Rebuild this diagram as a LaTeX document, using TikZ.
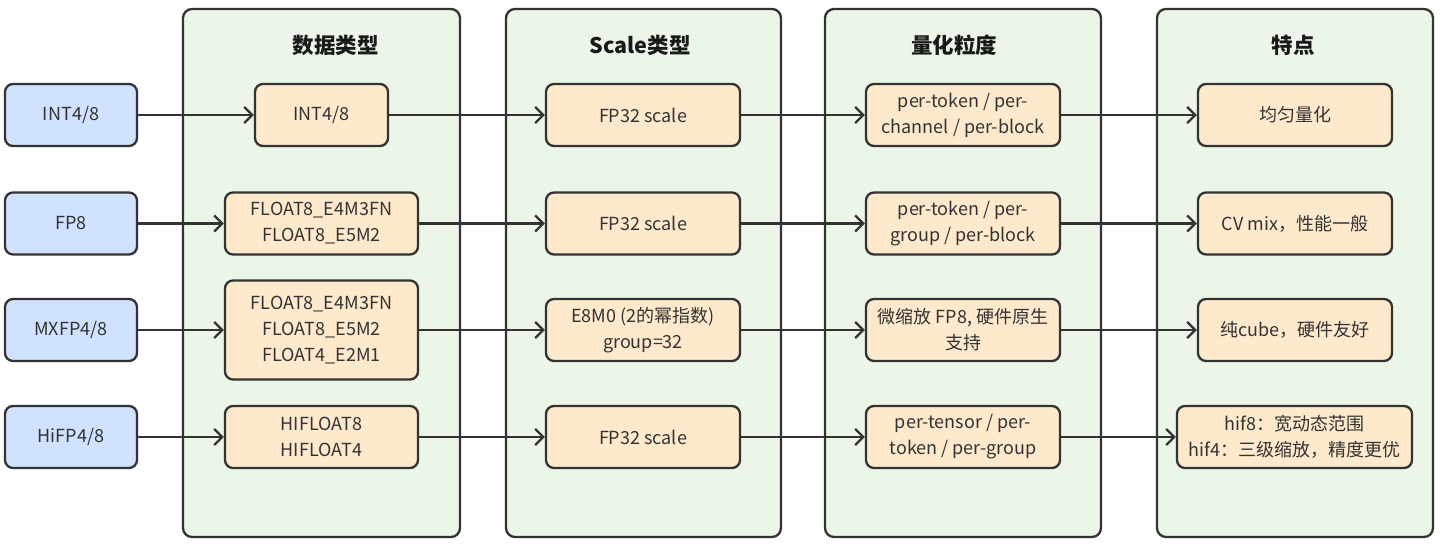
\documentclass[tikz,border=0pt]{standalone}
\usepackage{fontspec}
\setmainfont{Noto Sans CJK SC}
\usetikzlibrary{arrows.meta}
\definecolor{linec}{HTML}{333333}
\definecolor{bluef}{HTML}{D0E2FF}
\definecolor{orangef}{HTML}{FFE9CC}
\definecolor{greenf}{HTML}{EBF6E9}
\definecolor{textc}{HTML}{333333}
\tikzset{
  grp/.style={draw=linec, fill=greenf, line width=2.3pt, rounded corners=9pt},
  box/.style={draw=linec, line width=2.3pt, rounded corners=8pt, inner sep=0pt,
    minimum height=62pt, align=center, text=textc,
    font=\fontsize{18}{26}\selectfont},
  inbox/.style={box, fill=bluef, minimum width=132pt},
  obox/.style={box, fill=orangef},
  ttl/.style={font=\fontsize{21.5}{25}\selectfont\bfseries, text=black!90},
  conn/.style={draw=linec, line width=2.3pt, -{Straight Barb[length=8pt,width=16pt,line width=2.3pt]}},
}
\begin{document}
\begin{tikzpicture}[x=1pt,y=-1pt]
\useasboundingbox[fill=white] (0,0) rectangle (1440,544);
% groups
\draw[grp] (183,9) rectangle (460,537);
\draw[grp] (506,9) rectangle (781,537);
\draw[grp] (825,9) rectangle (1101,537);
\draw[grp] (1157,9) rectangle (1433,537);
\node[ttl] (t1) at (335.5,45) {数据类型};
\node[ttl] (t2) at (640,45) {Scale类型};
\node[ttl] (t3) at (954,45) {量化粒度};
\node[ttl] (t4) at (1293,45) {特点};
% input boxes
\node[inbox] (i1) at (71,115) {INT4/8};
\node[inbox] (i2) at (71,223.5) {FP8};
\node[inbox] (i3) at (71,330) {MXFP4/8};
\node[inbox] (i4) at (71,437) {HiFP4/8};
% column 1
\node[obox, minimum width=133pt] (a1) at (321.5,115) {INT4/8};
\node[obox, minimum width=193pt] (a2) at (321.5,223.5) {FLOAT8\_E4M3FN\\FLOAT8\_E5M2};
\node[obox, minimum width=193pt, minimum height=99pt] (a3) at (321.5,330) {FLOAT8\_E4M3FN\\FLOAT8\_E5M2\\FLOAT4\_E2M1};
\node[obox, minimum width=193pt] (a4) at (321.5,437) {HIFLOAT8\\HIFLOAT4};
% column 2
\node[obox, minimum width=194pt] (b1) at (643,115) {FP32 scale};
\node[obox, minimum width=194pt] (b2) at (643,223.5) {FP32 scale};
\node[obox, minimum width=194pt] (b3) at (643,330) {E8M0 (2的幂指数)\\group=32};
\node[obox, minimum width=194pt] (b4) at (643,437) {FP32 scale};
% column 3
\node[obox, minimum width=194pt] (c1) at (963,115) {per-token / per-\\channel / per-block};
\node[obox, minimum width=194pt] (c2) at (963,223.5) {per-token / per-\\group / per-block};
\node[obox, minimum width=194pt] (c3) at (963,330) {微缩放 FP8, 硬件原生\\支持};
\node[obox, minimum width=194pt] (c4) at (963,437) {per-tensor / per-\\token / per-group};
% column 4
\node[obox, minimum width=194pt] (d1) at (1295,115) {均匀量化};
\node[obox, minimum width=194pt] (d2) at (1295,223.5) {CV mix，性能一般};
\node[obox, minimum width=194pt] (d3) at (1295,330) {纯cube，硬件友好};
\node[obox, minimum width=235pt] (d4) at (1294.5,437) {hif8：宽动态范围\\hif4：三级缩放，精度更优};
% connectors
\foreach \r in {1,2,3,4}{
  \draw[conn] (i\r.east) -- (a\r.west);
  \draw[conn] (a\r.east) -- (b\r.west);
  \draw[conn] (b\r.east) -- (c\r.west);
  \draw[conn] (c\r.east) -- (d\r.west);
}
\end{tikzpicture}
\end{document}
